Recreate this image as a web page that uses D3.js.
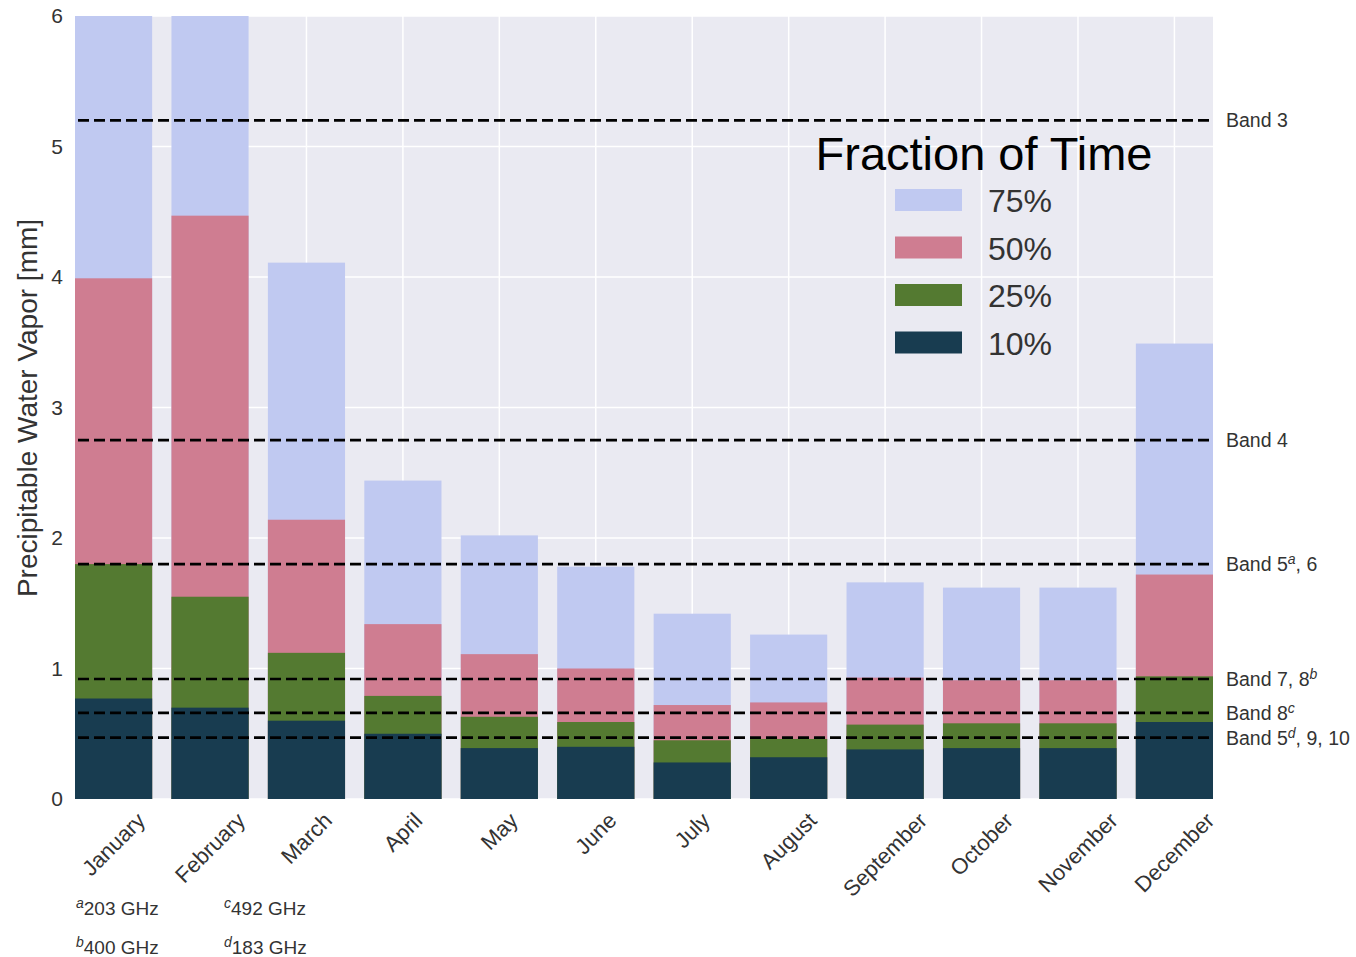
<!DOCTYPE html>
<html>
<head>
<meta charset="utf-8">
<script src="https://cdn.jsdelivr.net/npm/d3@7"></script>
<style>
  body { margin: 0; background: #fff; }
  text { font-family: "Liberation Sans", Arial, sans-serif; }
</style>
</head>
<body>
<div id="chart"></div>
<script>
// data
var months = ["January", "February", "March", "April", "May", "June",
  "July", "August", "September", "October", "November", "December"]
var pct75 = [6.5, 6.5, 4.11, 2.44, 2.02, 1.78, 1.42, 1.26, 1.66, 1.62, 1.62, 3.49]
var pct50 = [3.99, 4.47, 2.14, 1.34, 1.11, 1.00, 0.72, 0.74, 0.93, 0.91, 0.91, 1.72]
var pct25 = [1.80, 1.55, 1.12, 0.79, 0.63, 0.59, 0.45, 0.46, 0.57, 0.58, 0.58, 0.94]
var pct10 = [0.77, 0.70, 0.60, 0.50, 0.39, 0.40, 0.28, 0.32, 0.38, 0.39, 0.39, 0.59]
var seriesNames = ["75%", "50%", "25%", "10%"]
var seriesColors = ["#c0c9f1", "#cf7d91", "#547a31", "#183c50"]
var bandValues = [5.2, 2.75, 1.8, 0.92, 0.66, 0.47]
var bandLabels = [["Band 3", "", ""], ["Band 4", "", ""], ["Band 5", "a", ", 6"],
  ["Band 7, 8", "b", ""], ["Band 8", "c", ""], ["Band 5", "d", ", 9, 10"]]
var footnotes = [["a", "203 GHz"], ["b", "400 GHz"], ["c", "492 GHz"], ["d", "183 GHz"]]
var yTicks = [0, 1, 2, 3, 4, 5, 6]

var W = 1356, H = 957
var pLeft = 75, pRight = 1213, pTop = 16, pBottom = 799

var svg = d3.select("#chart").append("svg")
    .attr("width", W)
    .attr("height", H)

var x = d3.scaleBand().domain(months).range([pLeft, pRight])
    .paddingInner(0.2).paddingOuter(0)
var y = d3.scaleLinear().domain([0, 6]).range([pBottom, pTop]).clamp(true)

// plot background
svg.append("rect")
    .attr("x", pLeft).attr("y", pTop)
    .attr("width", pRight - pLeft).attr("height", pBottom - pTop)
    .attr("fill", "#eaeaf2")

// grid
svg.selectAll(".hgrid").data(yTicks).enter().append("line")
    .attr("x1", pLeft).attr("x2", pRight)
    .attr("y1", function(d) { return y(d) }).attr("y2", function(d) { return y(d) })
    .attr("stroke", "#fff").attr("stroke-width", 1.5)
svg.selectAll(".vgrid").data(months).enter().append("line")
    .attr("x1", function(d) { return x(d) + x.bandwidth()/2 })
    .attr("x2", function(d) { return x(d) + x.bandwidth()/2 })
    .attr("y1", pTop).attr("y2", pBottom)
    .attr("stroke", "#fff").attr("stroke-width", 1.5)

// overlapping bars, largest first
var series = [pct75, pct50, pct25, pct10]
series.forEach(function(vals, i) {
  svg.append("g").selectAll("rect")
      .data(vals).enter().append("rect")
      .attr("x", function(d, j) { return x(months[j]) })
      .attr("width", x.bandwidth())
      .attr("y", function(d) { return y(d) })
      .attr("height", function(d) { return pBottom - y(d) })
      .attr("fill", seriesColors[i])
})

// band lines
svg.selectAll(".band").data(bandValues).enter().append("line")
    .attr("x1", pLeft + 3).attr("x2", pRight)
    .attr("y1", function(d) { return y(d) }).attr("y2", function(d) { return y(d) })
    .attr("stroke", "#000").attr("stroke-width", 2.6)
    .attr("stroke-dasharray", "11,5")

var bl = svg.selectAll(".blabel").data(bandValues).enter().append("text")
    .attr("x", 1226)
    .attr("y", function(d) { return y(d) + 7 })
    .attr("font-size", 19.5)
    .attr("fill", "#333")
bl.each(function(d, i) {
  var t = d3.select(this), parts = bandLabels[i]
  t.append("tspan").text(parts[0])
  if (parts[1]) {
    t.append("tspan").attr("dy", -7).attr("font-size", 14)
        .attr("font-style", "italic").text(parts[1])
    t.append("tspan").attr("dy", 7).text(parts[2])
  }
})

// y axis
var yAxis = svg.append("g")
    .attr("transform", "translate(" + pLeft + ",0)")
    .call(d3.axisLeft(y).tickValues(yTicks).tickSize(0).tickPadding(12).tickFormat(d3.format("d")))
yAxis.select(".domain").remove()
yAxis.selectAll("text")
    .attr("font-size", 21)
    .attr("fill", "#333")
    .style("font-family", "Liberation Sans, Arial, sans-serif")

svg.append("text")
    .attr("transform", "translate(37,408) rotate(-90)")
    .attr("text-anchor", "middle")
    .attr("font-size", 28)
    .attr("fill", "#333")
    .text("Precipitable Water Vapor [mm]")

// month labels, rotated 45 and centred under each bar
svg.selectAll(".mlabel").data(months).enter().append("text")
    .attr("font-size", 22)
    .attr("fill", "#333")
    .attr("text-anchor", "middle")
    .attr("dominant-baseline", "central")
    .text(function(d) { return d })
    .each(function(d) {
      var L = this.getComputedTextLength()
      var h = (L + 16) * Math.SQRT1_2
      var cx = x(d) + x.bandwidth()/2, cy = 811 + h/2
      d3.select(this).attr("x", cx).attr("y", cy)
          .attr("transform", "rotate(-45," + cx + "," + cy + ")")
    })

// legend
svg.append("text")
    .attr("x", 984).attr("y", 170)
    .attr("text-anchor", "middle")
    .attr("font-size", 47)
    .attr("fill", "#000")
    .text("Fraction of Time")
var leg = svg.selectAll(".leg").data(seriesNames).enter().append("g")
    .attr("transform", function(d, i) { return "translate(895," + (200 + i*47.5) + ")" })
leg.append("rect")
    .attr("x", 0).attr("y", -11)
    .attr("width", 67).attr("height", 22)
    .attr("fill", function(d, i) { return seriesColors[i] })
leg.append("text")
    .attr("x", 93).attr("y", 12)
    .attr("font-size", 32)
    .attr("fill", "#333")
    .text(function(d) { return d })

// footnotes
var fn = svg.selectAll(".fn").data(footnotes).enter().append("text")
    .attr("x", function(d, i) { return i < 2 ? 76 : 224 })
    .attr("y", function(d, i) { return i % 2 == 0 ? 915 : 954 })
    .attr("font-size", 19)
    .attr("fill", "#333")
fn.append("tspan").attr("dy", -7).attr("font-size", 14).attr("font-style", "italic")
    .text(function(d) { return d[0] })
fn.append("tspan").attr("dy", 7).text(function(d) { return d[1] })
</script>
</body>
</html>
